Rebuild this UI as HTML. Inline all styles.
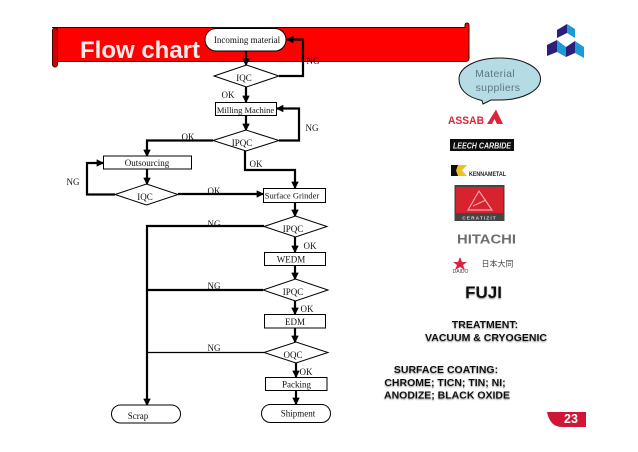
<!DOCTYPE html>
<html><head><meta charset="utf-8"><style>
html,body{margin:0;padding:0;background:#fff}
svg{display:block}
.s{font-family:"Liberation Serif",serif;font-size:9px;fill:#111;text-anchor:middle}
.n{font-family:"Liberation Serif",serif;font-size:9px;fill:#111;text-anchor:middle}
.l{fill:none;stroke:#000;stroke-width:2.2}
.b{fill:#fff;stroke:#000;stroke-width:1}
.h{font-family:"Liberation Sans",sans-serif;font-weight:bold;font-size:10.5px;fill:#111;text-anchor:middle;filter:url(#sh)}
</style></head><body>
<svg width="638" height="452" viewBox="0 0 638 452" xmlns="http://www.w3.org/2000/svg">
<defs>
<filter id="sh" x="-10%" y="-30%" width="120%" height="180%"><feDropShadow dx="0" dy="1" stdDeviation="0.8" flood-color="#888"/></filter>
<filter id="bl" x="-10%" y="-10%" width="120%" height="120%"><feGaussianBlur stdDeviation="0.3"/></filter>
<marker id="a" markerWidth="3.4" markerHeight="3.4" refX="2.9" refY="1.7" orient="auto" markerUnits="strokeWidth"><path d="M0,0L3.4,1.7L0,3.4z" fill="#000"/></marker>
</defs>

<!-- banner -->
<path d="M52,27.5H465V25.5Q465,23 467,23Q469,23 469,25.5V58Q469,61.5 465,61.5H57V27.5Z" fill="#fe0000" stroke="#400" stroke-width="1"/>
<rect x="52.5" y="28" width="5" height="39" rx="2.5" fill="#d40000" stroke="#400" stroke-width="1"/>
<text x="80" y="58" font-family="Liberation Sans,sans-serif" font-weight="bold" font-size="24" fill="#fbeaea">Flow chart</text>

<!-- connectors -->
<g class="l">
<path d="M246,51V65" marker-end="url(#a)"/>
<path d="M279,76H303V39.5H287" marker-end="url(#a)"/>
<path d="M246,87V102" marker-end="url(#a)"/>
<path d="M246,115.5V130" marker-end="url(#a)"/>
<path d="M279,140.5H299V108.5H277" marker-end="url(#a)"/>
<path d="M213,140.5H147V156" marker-end="url(#a)"/>
<path d="M245,151V170H295V188" marker-end="url(#a)"/>
<path d="M147,169V184" marker-end="url(#a)"/>
<path d="M115,194.5H87V163H103" marker-end="url(#a)"/>
<path d="M178,194H263" marker-end="url(#a)"/>
<path d="M295,202.5V216" marker-end="url(#a)"/>
<path d="M295,237V252" marker-end="url(#a)"/>
<path d="M295,265.5V279" marker-end="url(#a)"/>
<path d="M295,301V314" marker-end="url(#a)"/>
<path d="M295,328V342" marker-end="url(#a)"/>
<path d="M296,363V377" marker-end="url(#a)"/>
<path d="M296,390V404" marker-end="url(#a)"/>
<path d="M264,226H147V405" marker-end="url(#a)"/>
<path d="M263,290H147"/>
</g>
<path d="M264,352.5H147" stroke="#000" stroke-width="1.2" fill="none"/>

<!-- nodes -->
<rect class="b" x="205" y="28.5" width="81" height="22.5" rx="11.2"/>
<text class="s" x="247" y="43">Incoming material</text>
<path class="b" d="M214,76L246.5,65L279,76L246.5,87Z"/>
<text class="n" x="244" y="81">IQC</text>
<rect class="b" x="215.5" y="102.5" width="61" height="13"/>
<text class="s" x="245.5" y="113" style="font-size:8.5px">Milling Machine</text>
<path class="b" d="M213,140.5L246,130L279,140.5L246,151Z"/>
<text class="n" x="242" y="146">IPQC</text>
<rect class="b" x="103.5" y="156" width="88" height="13"/>
<text class="s" x="147" y="166">Outsourcing</text>
<path class="b" d="M115,194.5L146.5,184L178,194.5L146.5,205Z"/>
<text class="n" x="145" y="200">IQC</text>
<rect class="b" x="263.5" y="188.5" width="62" height="14"/>
<text class="s" x="292" y="198.5" style="font-size:8.5px">Surface Grinder</text>
<path class="b" d="M264,226.5L295.5,216L327,226.5L295.5,237Z"/>
<text class="n" x="293" y="232">IPQC</text>
<rect class="b" x="264.5" y="252.5" width="61" height="13"/>
<text class="s" x="291" y="262.5">WEDM</text>
<path class="b" d="M263,290L295.5,279L328,290L295.5,301Z"/>
<text class="n" x="293" y="295">IPQC</text>
<rect class="b" x="264.5" y="314.5" width="61" height="13.5"/>
<text class="s" x="295" y="325">EDM</text>
<path class="b" d="M264,352.5L296,342L328,352.5L296,363Z"/>
<text class="n" x="293" y="358">OQC</text>
<rect class="b" x="265.5" y="377.5" width="61.5" height="13"/>
<text class="s" x="296.5" y="387.5">Packing</text>
<rect class="b" x="111.5" y="405" width="69" height="18" rx="9"/>
<text class="s" x="138" y="419">Scrap</text>
<rect class="b" x="261.5" y="404.5" width="69" height="18" rx="9"/>
<text class="s" x="298" y="416.5">Shipment</text>

<!-- edge labels -->
<g class="s">
<text x="313" y="64">NG</text>
<text x="228" y="98">OK</text>
<text x="312" y="131">NG</text>
<text x="188" y="140">OK</text>
<text x="256" y="167">OK</text>
<text x="73" y="185">NG</text>
<text x="214" y="194">OK</text>
<text x="214" y="227">NG</text>
<text x="310" y="249">OK</text>
<text x="214" y="289">NG</text>
<text x="307" y="312">OK</text>
<text x="214" y="351">NG</text>
<text x="306" y="375">OK</text>
</g>

<!-- corner logo -->
<g>
<path d="M557,30L567,24V33L557,38Z" fill="#2c1f7c"/>
<path d="M567,24L575,29V38L567,33Z" fill="#1c9ad6"/>
<path d="M547,45L557,40V52L547,56Z" fill="#2c1f7c"/>
<path d="M557,40L566,47V57L557,52Z" fill="#1c9ad6"/>
<path d="M566,47L575,41V53L566,57Z" fill="#2c1f7c"/>
<path d="M575,41L584,47V58L575,53Z" fill="#1c9ad6"/>
</g>

<!-- bubble -->
<path d="M482,100.5C466,97 459,89 459,79C459,67 477,58 499.5,58C522,58 540.5,67 540.5,79C540.5,91 522,100 499.5,100C496,100 493,100 491,100L483,104Z" fill="#b5dbe4" stroke="#111" stroke-width="1"/>
<text x="495" y="77" font-family="Liberation Sans,sans-serif" font-size="10.5" fill="#5d7883" text-anchor="middle" letter-spacing=".3">Material</text>
<text x="498" y="91" font-family="Liberation Sans,sans-serif" font-size="10.5" fill="#5d7883" text-anchor="middle" letter-spacing=".3">suppliers</text>

<!-- supplier logos -->
<g filter="url(#bl)">
<text x="448" y="124" font-family="Liberation Sans,sans-serif" font-weight="bold" font-size="11" fill="#d9283a" textLength="36" lengthAdjust="spacingAndGlyphs">ASSAB</text>
<path d="M487,124L496,109.5L503,124H497L494.5,119L492,124Z" fill="#d9283a"/>

<rect x="450" y="139" width="64" height="12" fill="#111"/>
<text x="453" y="148.5" font-family="Liberation Sans,sans-serif" font-weight="bold" font-style="italic" font-size="8" fill="#eee" textLength="58" lengthAdjust="spacingAndGlyphs">LEECH CARBIDE</text>

<path d="M451,165H458V176H451Z" fill="#111"/>
<path d="M458,165H467L462,170.5L467,176H458L456,170.5Z" fill="#f0c020"/>
<text x="469" y="176" font-family="Liberation Sans,sans-serif" font-weight="bold" font-size="6.5" fill="#222" textLength="37" lengthAdjust="spacingAndGlyphs">KENNAMETAL</text>

<rect x="454.5" y="185" width="50" height="36" fill="#444"/>
<rect x="456" y="187" width="47" height="26" fill="#d8202e"/>
<path d="M479,191L468,210H492Z" fill="none" stroke="#eaa" stroke-width="1.2"/>
<path d="M473,206L486,200" stroke="#eaa" stroke-width="1.2"/>
<text x="479.5" y="219.5" font-family="Liberation Sans,sans-serif" font-weight="bold" font-size="4.8" fill="#ddd" text-anchor="middle" letter-spacing="1.1">CERATIZIT</text>

<text x="486.5" y="243.5" font-family="Liberation Sans,sans-serif" font-weight="bold" font-size="13" fill="#6e6e6e" text-anchor="middle" textLength="59" lengthAdjust="spacingAndGlyphs">HITACHI</text>

<path d="M460,257L462,262H467L463,265L465,270L460,267L455,270L457,265L453,262H458Z" fill="#d9203a"/>
<text x="460.5" y="273" font-family="Liberation Sans,sans-serif" font-size="5" fill="#444" text-anchor="middle">DAIDO</text>
<text x="497.5" y="266.5" font-family="Liberation Sans,'Noto Sans CJK JP',sans-serif" font-size="8" fill="#444" text-anchor="middle">日本大同</text>
</g>

<text x="483.5" y="298" font-family="Liberation Sans,sans-serif" font-weight="bold" font-size="17" fill="#111" text-anchor="middle" filter="url(#sh)">FUJI</text>

<text class="h" x="485" y="328">TREATMENT:</text>
<text class="h" x="486" y="341">VACUUM &amp; CRYOGENIC</text>
<text class="h" x="446" y="373">SURFACE COATING:</text>
<text class="h" x="445" y="386">CHROME; TICN; TIN; NI;</text>
<text class="h" x="447" y="398.5">ANODIZE; BLACK OXIDE</text>

<!-- page badge -->
<path d="M547,412H586V427H562Q550,427 547,412Z" fill="#d01636"/>
<text x="571" y="423" font-family="Liberation Sans,sans-serif" font-weight="bold" font-size="12.5" fill="#fff" text-anchor="middle">23</text>
</svg>
</body></html>
